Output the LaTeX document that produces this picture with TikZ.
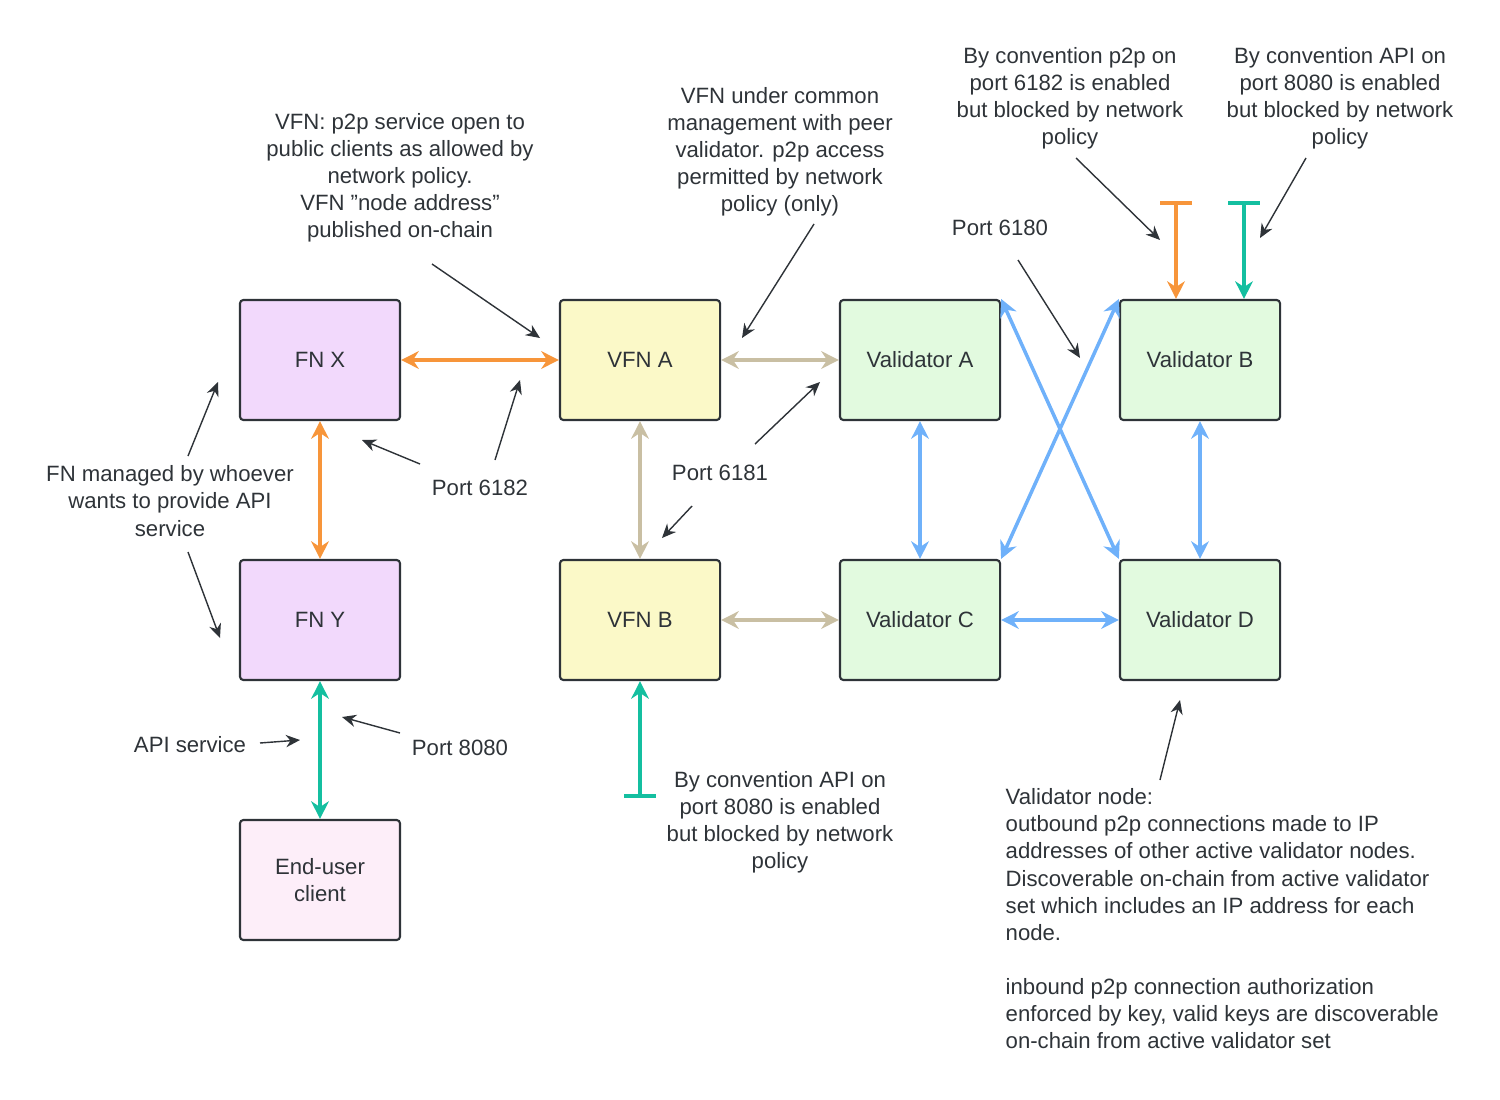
\documentclass[tikz,border=0pt]{standalone}
\usepackage{fontspec}
\setmainfont{Liberation Sans}
\usetikzlibrary{arrows.meta}
\definecolor{fnfill}{HTML}{F2D9FC}
\definecolor{vfnfill}{HTML}{FBF9C8}
\definecolor{valfill}{HTML}{E2FADF}
\definecolor{clifill}{HTML}{FDEEF9}
\definecolor{orng}{HTML}{F7953A}
\definecolor{tan}{HTML}{C9BFA3}
\definecolor{blu}{HTML}{6FB1FA}
\definecolor{teal}{HTML}{14BFA0}
\definecolor{ink}{HTML}{2E3338}
\begin{document}
\begin{tikzpicture}[x=0.01cm,y=-0.01cm,font=\fontsize{6.3pt}{7.7pt}\selectfont,text=ink]
\tikzstyle{box}=[draw=ink,line width=0.6pt,rounded corners=1pt,minimum width=1.6cm,minimum height=1.2cm,align=center]
\tikzstyle{note}=[align=center,inner sep=0pt]
\tikzstyle{link}=[line width=1pt,{Stealth[length=5pt,width=5pt]}-{Stealth[length=5pt,width=5pt]}]
\tikzstyle{pointer}=[draw=ink,line width=0.4pt,-{Stealth[length=4pt,width=3.5pt]}]
\useasboundingbox (0,0) rectangle (1500,1100);
\node[box,fill=fnfill] (fnx) at (320,360) {FN X};
\node[box,fill=fnfill] (fny) at (320,620) {FN Y};
\node[box,fill=clifill] (cli) at (320,880) {End-user\\client};
\node[box,fill=vfnfill] (vfna) at (640,360) {VFN A};
\node[box,fill=vfnfill] (vfnb) at (640,620) {VFN B};
\node[box,fill=valfill] (vala) at (920,360) {Validator A};
\node[box,fill=valfill] (valb) at (1200,360) {Validator B};
\node[box,fill=valfill] (valc) at (920,620) {Validator C};
\node[box,fill=valfill] (vald) at (1200,620) {Validator D};
% connections
\draw[link,orng] (fnx) -- (vfna);
\draw[link,orng] (fnx) -- (fny);
\draw[link,teal] (fny) -- (cli);
\draw[link,tan] (vfna) -- (vala);
\draw[link,tan] (vfna) -- (vfnb);
\draw[link,tan] (vfnb) -- (valc);
\draw[link,blu] (vala) -- (valc);
\draw[link,blu] (valb) -- (vald);
\draw[link,blu] (valc) -- (vald);
\draw[link,blu] (vala.north east) -- (vald.north west);
\draw[link,blu] (valb.north west) -- (valc.north east);
% blocked ports
\coordinate (bar1) at (640,798);
\coordinate (bar2) at (1176,201);
\coordinate (bar3) at (1244,201);
\draw[line width=1pt,teal,{Bar[width=9pt]}-{Stealth[length=5pt,width=5pt]}] (bar1) -- (vfnb);
\draw[line width=1pt,orng,{Bar[width=9pt]}-{Stealth[length=5pt,width=5pt]}] (bar2) -- (bar2 |- valb.north);
\draw[line width=1pt,teal,{Bar[width=9pt]}-{Stealth[length=5pt,width=5pt]}] (bar3) -- (bar3 |- valb.north);
% notes
\node[note] (n1) at (400,178) {VFN: p2p service open to\\public clients as allowed by\\network policy.\\VFN "node address"\\published on-chain};
\node[note] (n2) at (780,152) {VFN under common\\management with peer\\validator. p2p access\\permitted by network\\policy (only)};
\node[note] (n3) at (1070,98) {By convention p2p on\\port 6182 is enabled\\but blocked by network\\policy};
\node[note] (n4) at (1340,98) {By convention API on\\port 8080 is enabled\\but blocked by network\\policy};
\node[note] (n5) at (780,822) {By convention API on\\port 8080 is enabled\\but blocked by network\\policy};
\node[note] (n6) at (170,501) {FN managed by whoever\\wants to provide API\\service};
\node[note] (p6182) at (480,488) {Port 6182};
\node[note] (p6181) at (720,473) {Port 6181};
\node[note] (p6180) at (1000,228) {Port 6180};
\node[note] (p8080) at (460,748) {Port 8080};
\node[note] (api) at (190,745) {API service};
\node[note,align=left,anchor=north west] (n7) at (1005,788) {Validator node:\\outbound p2p connections made to IP\\addresses of other active validator nodes.\\Discoverable on-chain from active validator\\set which includes an IP address for each\\node.\\[7.7pt]inbound p2p connection authorization\\enforced by key, valid keys are discoverable\\on-chain from active validator set};
% pointers
\coordinate (t1) at (540,338); \coordinate (t2) at (742,338);
\coordinate (t3) at (1080,358); \coordinate (t4) at (1160,240);
\coordinate (t5) at (1260,238); \coordinate (t6) at (520,380);
\coordinate (t7) at (362,440); \coordinate (t8) at (218,382);
\coordinate (t9) at (220,638); \coordinate (t10) at (820,382);
\coordinate (t11) at (662,538); \coordinate (t12) at (342,717);
\coordinate (t13) at (300,740); \coordinate (t14) at (1180,700);
\draw[pointer] (432,264) -- (t1);
\draw[pointer] (814,224) -- (t2);
\draw[pointer] (1018,260) -- (t3);
\draw[pointer] (1076,158) -- (t4);
\draw[pointer] (1306,158) -- (t5);
\draw[pointer] (495,460) -- (t6);
\draw[pointer] (420,464) -- (t7);
\draw[pointer] (188,456) -- (t8);
\draw[pointer] (188,552) -- (t9);
\draw[pointer] (755,444) -- (t10);
\draw[pointer] (692,506) -- (t11);
\draw[pointer] (400,733) -- (t12);
\draw[pointer] (260,743) -- (t13);
\draw[pointer] (1160,780) -- (t14);
\end{tikzpicture}
\end{document}
